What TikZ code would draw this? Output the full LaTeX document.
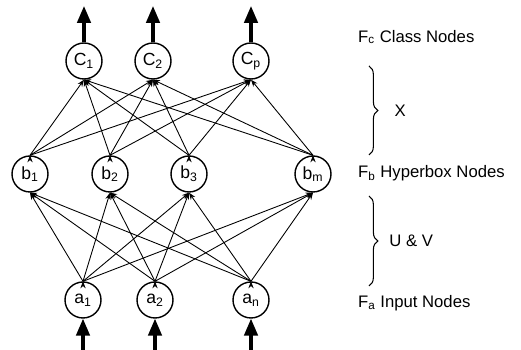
\documentclass[tikz,border=0pt]{standalone}
\usepackage{fontspec}
\setmainfont{Liberation Sans}
\usetikzlibrary{arrows.meta,decorations.pathreplacing}

\tikzset{
  unit/.style={circle, draw, thick, minimum size=0.72cm, inner sep=0pt, font=\fontsize{10}{11}\selectfont},
  link/.style={-{Stealth[length=4pt,width=3pt]}, line width=0.5pt},
  flow/.style={-{Triangle[length=0.34cm,width=0.27cm]}, line width=1.8pt},
  layer/.style={anchor=west, font=\fontsize{9.5}{11}\selectfont},
  grp/.style={decorate, decoration={brace, amplitude=5pt}, line width=0.6pt}
}

\begin{document}
\begin{tikzpicture}[x=0.02cm, y=-0.02cm]
\useasboundingbox (0,0) rectangle (521,350);

%Class nodes
\node[unit] (C1) at (84,61) {C\textsubscript{1}};
\node[unit] (C2) at (153,61) {C\textsubscript{2}};
\node[unit] (Cp) at (251,61) {C\textsubscript{p}};

%Hyperbox nodes
\node[unit] (b1) at (30,174) {b\textsubscript{1}};
\node[unit] (b2) at (110,174) {b\textsubscript{2}};
\node[unit] (b3) at (189,174) {b\textsubscript{3}};
\node[unit] (bm) at (313,174) {b\textsubscript{m}};

%Input nodes
\node[unit] (a1) at (83,300) {a\textsubscript{1}};
\node[unit] (a2) at (155,300) {a\textsubscript{2}};
\node[unit] (an) at (251,300) {a\textsubscript{n}};

%Free ends of the thick arrows
\coordinate (o1) at (84,6);
\coordinate (o2) at (153,6);
\coordinate (op) at (251,6);
\coordinate (i1) at (83,350);
\coordinate (i2) at (155,350);
\coordinate (in) at (251,350);

%Outputs and inputs
\draw[flow] (C1) -- (o1);
\draw[flow] (C2) -- (o2);
\draw[flow] (Cp) -- (op);
\draw[flow] (i1) -- (a1);
\draw[flow] (i2) -- (a2);
\draw[flow] (in) -- (an);

%Hyperbox to class
\draw[link] (b1.north) edge (C1.south) edge (C2.south) edge (Cp.south);
\draw[link] (b2.north) edge (C1.south) edge (C2.south) edge (Cp.south);
\draw[link] (b3.north) edge (C1.south) edge (C2.south) edge (Cp.south);
\draw[link] (bm.north) edge (C1.south) edge (C2.south) edge (Cp.south);

%Input to hyperbox
\draw[link] (a1.north) edge (b1.south) edge (b2.south) edge (b3.south) edge (bm.south);
\draw[link] (a2.north) edge (b1.south) edge (b2.south) edge (b3.south) edge (bm.south);
\draw[link] (an.north) edge (b1.south) edge (b2.south) edge (b3.south) edge (bm.south);

%Layer labels
\node[layer] (Fc) at (352,37) {F\textsubscript{c} Class Nodes};
\node[layer] (Fb) at (352,173) {F\textsubscript{b} Hyperbox Nodes};
\node[layer] (Fa) at (352,303) {F\textsubscript{a} Input Nodes};

%Braces
\coordinate (X1) at (369,66);
\coordinate (X2) at (369,155);
\coordinate (U1) at (369,196);
\coordinate (U2) at (369,286);
\draw[grp] (X1) -- (X2) node[midway, right=11pt, font=\fontsize{9.5}{11}\selectfont] (X) {X};
\draw[grp] (U1) -- (U2) node[midway, right=8pt, font=\fontsize{9.5}{11}\selectfont] (UV) {U \& V};

\end{tikzpicture}
\end{document}
